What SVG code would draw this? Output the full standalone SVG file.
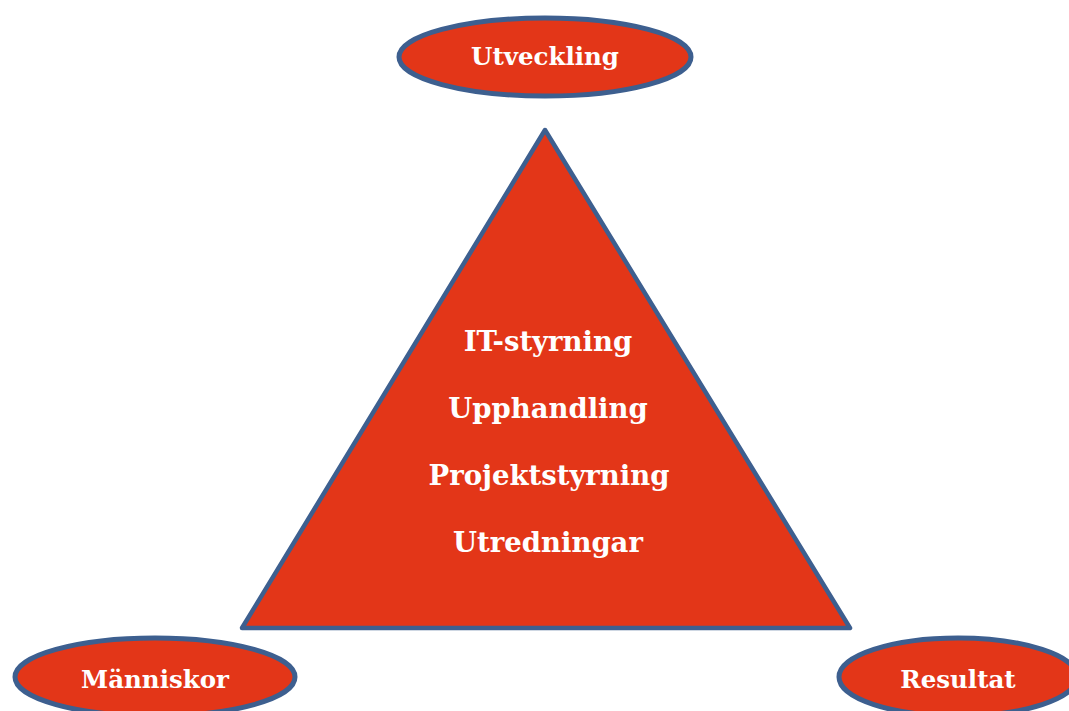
<svg xmlns="http://www.w3.org/2000/svg" width="1069" height="711" viewBox="0 0 1069 711">
<style>
.shape{fill:#E33618;stroke:#3D5F8F;stroke-width:4.5;stroke-linejoin:round}
.oval{stroke-width:5}
.lbl{font-family:"DejaVu Serif","Liberation Serif",serif;font-weight:bold;font-size:24.5px;fill:#FFFFFF;text-anchor:middle}
.big{font-size:27.5px}
</style>
<rect width="1069" height="711" fill="#FFFFFF"/>
<g id="triangle">
<polygon class="shape" points="545,130 850,628 242,628"/>
<text class="lbl big" x="548" y="351">IT-styrning</text>
<text class="lbl big" x="548" y="418">Upphandling</text>
<text class="lbl big" x="549" y="485">Projektstyrning</text>
<text class="lbl big" x="548" y="552">Utredningar</text>
</g>
<g id="utveckling">
<ellipse class="shape oval" cx="545" cy="57" rx="146" ry="39"/>
<text class="lbl" x="545" y="65">Utveckling</text>
</g>
<g id="manniskor">
<ellipse class="shape oval" cx="155" cy="677" rx="140" ry="39"/>
<text class="lbl" x="155" y="688">Människor</text>
</g>
<g id="resultat">
<ellipse class="shape oval" cx="958" cy="677" rx="119" ry="39"/>
<text class="lbl" x="958" y="688">Resultat</text>
</g>
<g id="connectors"></g>
</svg>
